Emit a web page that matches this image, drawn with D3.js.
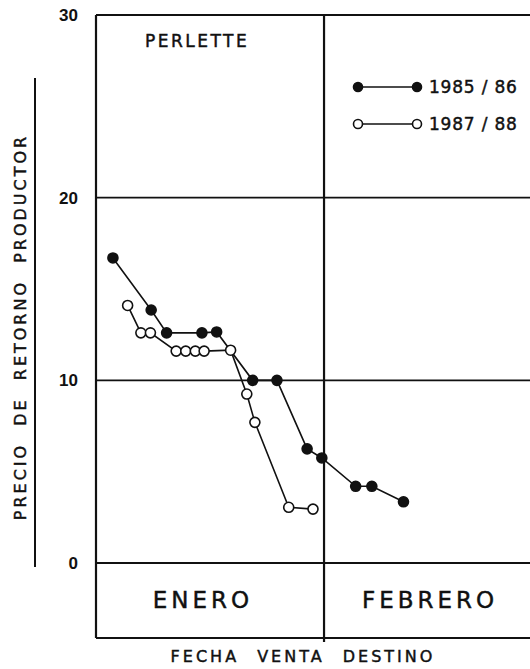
<!DOCTYPE html>
<html lang="es">
<head>
  <meta charset="UTF-8">
  <title>Perlette - precio de retorno productor</title>
  <style>
    body {
      margin: 0;
      background: #fff;
    }
    svg {
      display: block;
      font-family: "DejaVu Sans", "Liberation Sans", sans-serif;
    }
    /* plotter lettering is a little heavier than a plain font */
    .lbl {
      stroke: #111;
      stroke-width: 0.45px;
    }
  </style>
</head>
<body>
  <div id="chart"></div>

  <script src="https://d3js.org/d3.v7.min.js"></script>
  <script>
    // Day of season (0 = 1 enero)
    const dias8586 = [2.3, 7.5, 9.6, 14.4, 16.4, 21.3, 24.6, 28.7, 30.7, 35.3, 37.5, 41.8];
    const precio8586 = [16.7, 13.85, 12.6, 12.6, 12.65, 10.0, 10.0, 6.25, 5.75, 4.2, 4.2, 3.35];

    const dias8788 = [4.3, 6.1, 7.4, 10.9, 12.2, 13.5, 14.7, 18.3, 20.5, 21.6, 26.2, 29.5];
    const precio8788 = [14.1, 12.6, 12.6, 11.6, 11.6, 11.6, 11.6, 11.65, 9.25, 7.7, 3.05, 2.95];

    const yTicks = [0, 10, 20, 30];
    const meses = ["ENERO", "FEBRERO"];
    const mesInicio = [0, 31, 59];
    const series = ["1985 / 86", "1987 / 88"];

    const W = 530, H = 669;
    const plotLeft = 96, plotRight = 530, plotTop = 15, plotBottom = 563, boxBottom = 638;

    const x = d3.scaleLinear().domain([0, 59]).range([plotLeft, plotRight]);
    const y = d3.scaleLinear().domain([0, 30]).range([plotBottom, plotTop]);

    const svg = d3.select("#chart")
      .append("svg")
      .attr("width", W)
      .attr("height", H);

    const ink = "#111";

    // frame: top, left, grid lines, zero line, bottom box
    svg.append("line")
      .attr("x1", plotLeft).attr("x2", W + 5)
      .attr("y1", plotTop).attr("y2", plotTop)
      .attr("stroke", ink).attr("stroke-width", 2);

    svg.append("line")
      .attr("x1", plotLeft).attr("x2", plotLeft)
      .attr("y1", plotTop).attr("y2", boxBottom)
      .attr("stroke", ink).attr("stroke-width", 2.2);

    svg.selectAll(".grid")
      .data(yTicks.filter(t => t > 0 && t < 30))
      .enter()
      .append("line")
      .attr("class", "grid")
      .attr("x1", plotLeft).attr("x2", W + 5)
      .attr("y1", d => y(d)).attr("y2", d => y(d))
      .attr("stroke", ink).attr("stroke-width", 1.6);

    svg.append("line")
      .attr("x1", plotLeft).attr("x2", W + 5)
      .attr("y1", y(0)).attr("y2", y(0))
      .attr("stroke", ink).attr("stroke-width", 1.8);

    svg.append("line")
      .attr("x1", plotLeft).attr("x2", W + 5)
      .attr("y1", boxBottom).attr("y2", boxBottom)
      .attr("stroke", ink).attr("stroke-width", 1.8);

    // month divider
    svg.append("line")
      .attr("x1", x(mesInicio[1])).attr("x2", x(mesInicio[1]))
      .attr("y1", plotTop).attr("y2", boxBottom + 4)
      .attr("stroke", ink).attr("stroke-width", 2.2);

    // y tick labels
    svg.selectAll(".ytick")
      .data(yTicks)
      .enter()
      .append("text")
      .attr("class", "ytick")
      .attr("x", plotLeft - 18)
      .attr("y", d => y(d))
      .attr("dy", "0.36em")
      .attr("text-anchor", "end")
      .attr("font-family", "Liberation Sans, Arial, sans-serif")
      .attr("font-weight", "bold")
      .attr("font-size", 17)
      .attr("fill", ink)
      .text(d => d);

    // y axis title with its rule
    svg.append("line")
      .attr("x1", 35).attr("x2", 35)
      .attr("y1", 78).attr("y2", 567)
      .attr("stroke", ink).attr("stroke-width", 2);

    svg.append("text")
      .attr("class", "lbl")
      .attr("transform", "translate(26,327) rotate(-90)")
      .attr("text-anchor", "middle")
      .attr("font-size", 16)
      .attr("letter-spacing", 3)
      .attr("word-spacing", 9)
      .attr("fill", ink)
      .text("PRECIO DE RETORNO PRODUCTOR");

    // month labels
    svg.selectAll(".mes")
      .data(meses)
      .enter()
      .append("text")
      .attr("class", "mes lbl")
      .attr("x", (d, i) => i === 0 ? 203 : 430)
      .attr("y", 608)
      .attr("text-anchor", "middle")
      .attr("font-size", 23)
      .attr("letter-spacing", 4)
      .attr("fill", ink)
      .text(d => d);

    svg.append("text")
      .attr("class", "lbl")
      .attr("x", 303)
      .attr("y", 662)
      .attr("text-anchor", "middle")
      .attr("font-size", 16)
      .attr("letter-spacing", 3)
      .attr("word-spacing", 10)
      .attr("fill", ink)
      .text("FECHA VENTA DESTINO");

    svg.append("text")
      .attr("class", "lbl")
      .attr("x", 145)
      .attr("y", 47)
      .attr("font-size", 17)
      .attr("letter-spacing", 2.5)
      .attr("fill", ink)
      .text("PERLETTE");

    // series
    const line = d3.line().x(d => x(d[0])).y(d => y(d[1]));
    const datos = [
      { name: series[0], pts: dias8586.map((d, i) => [d, precio8586[i]]), fill: ink },
      { name: series[1], pts: dias8788.map((d, i) => [d, precio8788[i]]), fill: "#fff" }
    ];

    datos.forEach(s => {
      svg.append("path")
        .attr("d", line(s.pts))
        .attr("fill", "none")
        .attr("stroke", ink)
        .attr("stroke-width", 1.6);

      svg.selectAll(null)
        .data(s.pts)
        .enter()
        .append("circle")
        .attr("cx", d => x(d[0]))
        .attr("cy", d => y(d[1]))
        .attr("r", 5)
        .attr("fill", s.fill)
        .attr("stroke", ink)
        .attr("stroke-width", 1.6);
    });

    // legend
    const legend = svg.append("g");
    datos.forEach((s, i) => {
      const ly = 87 + i * 37;
      legend.append("line")
        .attr("x1", 358).attr("x2", 417)
        .attr("y1", ly).attr("y2", ly)
        .attr("stroke", ink).attr("stroke-width", 1.6);
      legend.selectAll(null)
        .data([358, 417])
        .enter()
        .append("circle")
        .attr("cx", d => d)
        .attr("cy", ly)
        .attr("r", 4.5)
        .attr("fill", s.fill)
        .attr("stroke", ink)
        .attr("stroke-width", 1.6);
      legend.append("text")
        .attr("class", "lbl")
        .attr("x", 429)
        .attr("y", ly)
        .attr("dy", "0.36em")
        .attr("font-size", 17)
        .attr("letter-spacing", 0.8)
        .attr("fill", ink)
        .text(s.name);
    });
  </script>
</body>
</html>
